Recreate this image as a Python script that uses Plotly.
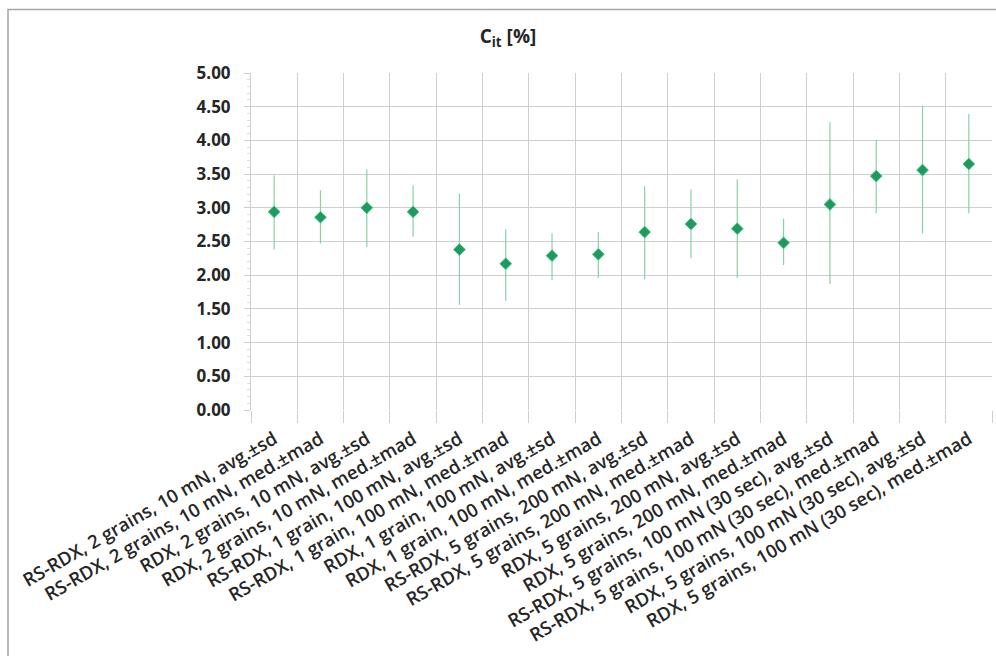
import plotly.graph_objects as go

categories = [
    "RS-RDX, 2 grains, 10 mN, avg.±sd",
    "RS-RDX, 2 grains, 10 mN, med.±mad",
    "RDX, 2 grains, 10 mN, avg.±sd",
    "RDX, 2 grains, 10 mN, med.±mad",
    "RS-RDX, 1 grain, 100 mN, avg.±sd",
    "RS-RDX, 1 grain, 100 mN, med.±mad",
    "RDX, 1 grain, 100 mN, avg.±sd",
    "RDX, 1 grain, 100 mN, med.±mad",
    "RS-RDX, 5 grains, 200 mN, avg.±sd",
    "RS-RDX, 5 grains, 200 mN, med.±mad",
    "RDX, 5 grains, 200 mN, avg.±sd",
    "RDX, 5 grains, 200 mN, med.±mad",
    "RS-RDX, 5 grains, 100 mN (30 sec), avg.±sd",
    "RS-RDX, 5 grains, 100 mN (30 sec), med.±mad",
    "RDX, 5 grains, 100 mN (30 sec), avg.±sd",
    "RDX, 5 grains, 100 mN (30 sec), med.±mad",
]
values = [2.94, 2.86, 3.00, 2.94, 2.38, 2.17, 2.29, 2.31, 2.64, 2.76, 2.69, 2.48, 3.05, 3.47, 3.56, 3.65]
upper = [3.48, 3.26, 3.57, 3.33, 3.21, 2.68, 2.62, 2.64, 3.32, 3.27, 3.42, 2.84, 4.27, 4.01, 4.52, 4.39]
lower = [2.38, 2.47, 2.42, 2.57, 1.56, 1.62, 1.93, 1.96, 1.94, 2.25, 1.96, 2.15, 1.87, 2.92, 2.62, 2.92]

err_plus = [u - v for u, v in zip(upper, values)]
err_minus = [v - l for v, l in zip(values, lower)]

FONT = "Open Sans"
TXT = "#262626"

fig = go.Figure()
fig.add_trace(go.Scatter(
    x=categories, y=values, mode="markers",
    marker=dict(symbol="diamond", size=9, color="#1f9a5f",
                line=dict(color="#45c283", width=1)),
    error_y=dict(type="data", symmetric=False, array=err_plus, arrayminus=err_minus,
                 color="#86d2a8", thickness=1.2, width=0),
    showlegend=False,
))

W, H = 996, 656
L, R, T, B = 251, 4, 73, 246
pw = W - L - R
ph = H - T - B

fig.update_layout(
    width=W, height=H,
    margin=dict(l=L, r=R, t=T, b=B),
    paper_bgcolor="white", plot_bgcolor="white",
    font=dict(family=FONT, color=TXT),
    title=dict(text="C<sub>it</sub> [%]", x=508 / W, xref="container", xanchor="center",
               y=1 - 36 / H, yref="container", yanchor="middle",
               font=dict(family=FONT, size=19, weight=700, color=TXT)),
    xaxis=dict(
        type="category", tickson="boundaries", showgrid=True, gridcolor="#cfcfcf", gridwidth=1,
        ticks="outside", ticklen=12, tickcolor="#cfcfcf", tickangle=-30,
        tickfont=dict(family=FONT, size=18.5, weight=600, color=TXT),
        ticklabelstandoff=14,
        showline=False, zeroline=False, range=[-0.5, 15.5],
    ),
    yaxis=dict(
        range=[0, 5], dtick=0.5, tick0=0, tickformat=".2f",
        showgrid=True, gridcolor="#cfcfcf", gridwidth=1,
        ticks="outside", ticklen=6, tickcolor="#cfcfcf",
        tickfont=dict(family=FONT, size=17, weight=700, color=TXT),
        ticklabelstandoff=10,
        minor=dict(ticks="outside", ticklen=3, dtick=0.1, tickcolor="#dddddd", showgrid=False),
        showline=True, linecolor="#cfcfcf", zeroline=False,
    ),
    shapes=[dict(type="rect", xref="paper", yref="paper",
                 x0=(8 - L) / pw, x1=1.2, y0=-1.2, y1=1 + (T - 9.5) / ph,
                 line=dict(color="#a6a6a6", width=1.5), fillcolor="rgba(0,0,0,0)", layer="below")],
)

fig.write_html("out.html")
